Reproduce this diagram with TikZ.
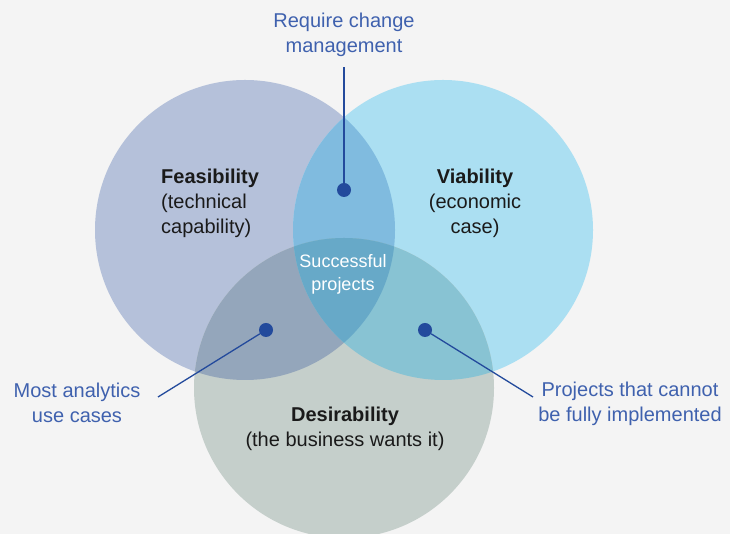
\documentclass[tikz,border=0pt]{standalone}
\usepackage{fontspec}
\setmainfont{Liberation Sans}
\usepackage{xcolor}
\usepackage{tikz}
\usetikzlibrary{positioning}
\definecolor{bggray}{HTML}{F4F4F4}
\definecolor{feascol}{HTML}{B5C1DA}
\definecolor{viabcol}{HTML}{ABDFF2}
\definecolor{desicol}{HTML}{C5CFCB}
\definecolor{fvcol}{HTML}{80BBDF}
\definecolor{fdcol}{HTML}{94A6BB}
\definecolor{vdcol}{HTML}{88C3D3}
\definecolor{allcol}{HTML}{67A9C8}
\definecolor{darkblue}{HTML}{234A9C}
\definecolor{noteblue}{HTML}{3F61AE}
\definecolor{inkblack}{HTML}{1A1A1A}
\tikzset {
  x=1pt, y=1pt,
  % the three big sets
  set/.style = {circle, minimum size=300pt, inner sep=0pt},
  % text inside the sets
  title/.style = {font=\fontsize{20}{25}\selectfont, text=inkblack, inner sep=0pt},
  % small dots that the notes point at
  marker/.style = {circle, fill=darkblue, minimum size=14pt, inner sep=0pt},
  % notes outside the sets
  note/.style = {font=\fontsize{20}{25}\selectfont, text=noteblue, align=center, inner sep=0pt},
  leader/.style = {darkblue, line width=1.3pt},
}

\begin{document}
\begin{tikzpicture}
        \fill[bggray] (0,0) rectangle (730,534);
        \useasboundingbox (0,0) rectangle (730,534);

        \node[set, fill=feascol] (feas) at (245,304) {};
        \node[set, fill=viabcol] (viab) at (443,304) {};
        \node[set, fill=desicol] (desi) at (344,146) {};

        % overlaps
        \begin{scope}
          \clip (feas.center) circle (150pt);
          \fill[fvcol] (viab.center) circle (150pt);
          \fill[fdcol] (desi.center) circle (150pt);
        \end{scope}
        \begin{scope}
          \clip (viab.center) circle (150pt);
          \fill[vdcol] (desi.center) circle (150pt);
        \end{scope}
        \begin{scope}
          \clip (feas.center) circle (150pt);
          \clip (viab.center) circle (150pt);
          \fill[allcol] (desi.center) circle (150pt);
        \end{scope}

        \node[title, align=left, anchor=west] (feastext) at (161,331) {\textbf{Feasibility}\\(technical\\capability)};
        \node[title, align=center] (viabtext) at (475,331) {\textbf{Viability}\\(economic\\case)};
        \node[title, align=center] (desitext) at (345,105) {\textbf{Desirability}\\(the business wants it)};
        \node[title, align=center, text=white, font=\fontsize{18}{23}\selectfont] (succ) at (343,260) {Successful\\projects};

        \node[marker] (fvdot) at (344,344) {};
        \node[marker] (fddot) at (266,204) {};
        \node[marker] (vddot) at (425,204) {};

        \node[note] (fvnote) at (344,499) {Require change\\management};
        \node[note] (fdnote) at (77,131) {Most analytics\\use cases};
        \node[note] (vdnote) at (630,130) {Projects that cannot\\be fully implemented};

        \coordinate (fvend) at (344,467);
        \coordinate (fdend) at (158,137);
        \coordinate (vdend) at (533,137);

        \draw[leader] (fvdot) -- (fvend);
        \draw[leader] (fddot) -- (fdend);
        \draw[leader] (vddot) -- (vdend);
      \end{tikzpicture}
\end{document}
